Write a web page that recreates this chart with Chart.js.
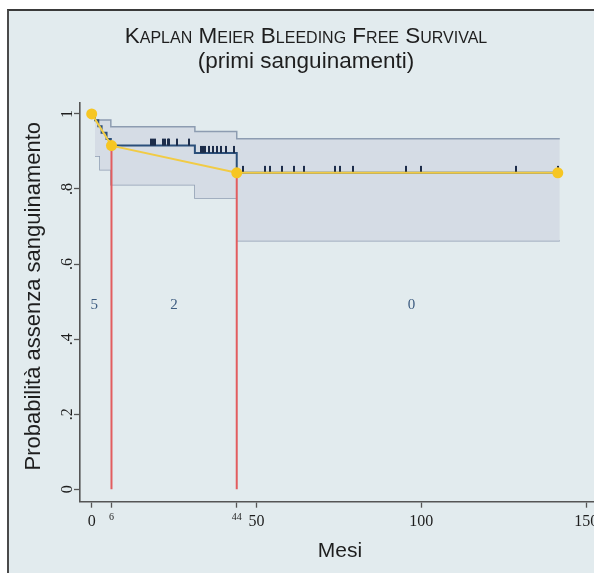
<!DOCTYPE html>
<html>
<head>
<meta charset="utf-8">
<script src="https://cdn.jsdelivr.net/npm/chart.js@4.4.1/dist/chart.umd.min.js"></script>
<style>
  html, body { margin: 0; padding: 0; background: #ffffff; overflow: hidden; width: 594px; height: 573px; }
  #frame { position: absolute; left: 7px; top: 9px; width: 700px; height: 700px; background: #e2ebee;
           border-left: 2px solid #4a4a4a; border-top: 2px solid #3a3a3a; }
  #c { position: absolute; left: 0; top: 0; }
</style>
</head>
<body>
<div id="frame"></div>
<canvas id="c" width="612" height="573"></canvas>
<script>
// ---- Data ----
const kmTimes = [0, 1, 2, 3, 4.5, 5.8, 31.3, 44, 141.4];
const kmSurv  = [1, 0.983, 0.967, 0.95, 0.933, 0.9155, 0.896, 0.843, 0.843];

const bandTimes = [1, 2.5, 5.8, 31.3, 44, 142];
const bandUpper = [0.984, 0.984, 0.966, 0.953, 0.934, 0.934];
const bandLower = [0.888, 0.851, 0.811, 0.776, 0.662, 0.662];

const censorTimes = [17.9, 18.6, 19.3, 21.7, 22.3, 23.0, 23.5, 25.8, 29.6,
                     33.3, 33.9, 34.5, 35.6, 36.9, 37.9, 39.1, 40.6, 43.3,
                     46, 52.6, 54.1, 57.8, 61.4, 64.5, 73.8, 75.3, 79.2, 95.3, 99.9, 128.7, 141.4];

const yellowTimes = [0, 6, 44, 141.4];
const yellowSurv  = [1, 0.9155, 0.843, 0.843];

const markTimes = [6, 44];           // red vertical markers
const markSurv  = [0.9155, 0.843];

const countLabels = ['5', '2', '0'];  // events per interval
const countTimes  = [0.8, 25, 97];
const countLevel  = 0.49;

const xTickValues = [0, 6, 44, 50, 100, 150];
const xTickLabels = ['0', '6', '44', '50', '100', '150'];
const xMinorTicks = [6, 44];
const yTickValues = [0, 0.2, 0.4, 0.6, 0.8, 1];
const yTickLabels = ['0', '.2', '.4', '.6', '.8', '1'];

// ---- helpers ----
function kmAt(t) {
  let s = kmSurv[0];
  for (let i = 0; i < kmTimes.length; i++) { if (kmTimes[i] <= t) s = kmSurv[i]; }
  return s;
}
function pts(xs, ys) { return xs.map((x, i) => ({ x: x, y: ys[i] })); }

const tickImg = (function () {
  const c = document.createElement('canvas');
  c.width = 2; c.height = 16;
  const g = c.getContext('2d');
  g.fillStyle = '#1d2d4a';
  g.fillRect(0, 1, 2, 7);
  return c;
})();

const countPlugin = {
  id: 'countLabels',
  afterDatasetsDraw(chart) {
    const { ctx, scales: { x, y } } = chart;
    ctx.save();
    ctx.font = '15px "Liberation Serif"';
    ctx.fillStyle = '#3d5c80';
    ctx.textAlign = 'center';
    ctx.textBaseline = 'middle';
    countLabels.forEach((lab, i) => {
      ctx.fillText(lab, x.getPixelForValue(countTimes[i]), y.getPixelForValue(countLevel));
    });
    ctx.restore();
  }
};

const datasets = [
  { // yellow connecting line with dots
    data: pts(yellowTimes, yellowSurv), borderColor: '#f1cb45', borderWidth: 2,
    pointRadius: 5.5, pointBackgroundColor: '#f6c623', pointBorderWidth: 0, order: 0, tension: 0
  },
  ...markTimes.map((t, i) => ({
    data: [{ x: t, y: 0 }, { x: t, y: markSurv[i] }], borderColor: '#e25d5f', borderWidth: 2,
    pointRadius: 0, order: 1
  })),
  { // censoring marks
    data: censorTimes.map(t => ({ x: t, y: kmAt(t) })), showLine: false,
    pointStyle: tickImg, pointRadius: 8, order: 2
  },
  { // KM curve
    data: pts(kmTimes, kmSurv), borderColor: '#2b4f7a', borderWidth: 2, stepped: 'before',
    pointRadius: 0, order: 3
  },
  { // band upper
    data: pts(bandTimes, bandUpper), borderColor: '#8d9cb1', borderWidth: 1.5, stepped: 'before',
    pointRadius: 0, order: 4, fill: { target: '+1' }, backgroundColor: '#d5dce5'
  },
  { // band lower
    data: pts(bandTimes, bandLower), borderColor: '#8d9cb1', borderWidth: 1.5, stepped: 'before',
    pointRadius: 0, order: 5
  }
];

new Chart(document.getElementById('c'), {
  type: 'line',
  data: { datasets: datasets },
  plugins: [countPlugin],
  options: {
    responsive: false,
    animation: false,
    events: [],
    layout: { padding: { left: 12, right: 12, top: 0, bottom: 0 } },
    plugins: {
      legend: { display: false },
      tooltip: { enabled: false },
      title: {
        display: true, text: 'Kaplan Meier Bleeding Free Survival', color: '#1e1e1e',
        font: { family: '"Liberation Sans"', size: 22.5, weight: 'small-caps', lineHeight: 1.1 },
        padding: { top: 24.6, bottom: 0 }
      },
      subtitle: {
        display: true, text: '(primi sanguinamenti)', color: '#1e1e1e',
        font: { family: '"Liberation Sans"', size: 22.5, weight: 'normal', lineHeight: 1.1 },
        padding: { top: 0, bottom: 28.9 }
      }
    },
    scales: {
      x: {
        type: 'linear', min: -3.55, max: 154.2,
        afterBuildTicks: s => { s.ticks = xTickValues.map(v => ({ value: v })); },
        afterFit: s => { s.height = 573 - 501.7; },
        ticks: {
          color: '#1e1e1e', padding: 4,
          callback: (v, i) => xTickLabels[i],
          font: c => ({ family: '"Liberation Serif"', size: (c.tick && xMinorTicks.includes(c.tick.value)) ? 10 : 16 })
        },
        grid: { display: true, drawOnChartArea: false, drawTicks: true, tickLength: 6, tickColor: '#555', tickWidth: 1.3 },
        border: { display: true, color: '#555', width: 1.6 },
        title: { display: true, text: 'Mesi', color: '#1e1e1e', font: { family: '"Liberation Sans"', size: 21 }, padding: { top: 0, bottom: 9 } }
      },
      y: {
        type: 'linear', min: -0.033, max: 1.029,
        afterBuildTicks: s => { s.ticks = yTickValues.map(v => ({ value: v })); },
        afterFit: s => { s.width = 68; },
        ticks: {
          color: '#1e1e1e', padding: 0, minRotation: 90, maxRotation: 90, crossAlign: 'center',
          callback: (v, i) => yTickLabels[i],
          font: { family: '"Liberation Serif"', size: 16 }
        },
        grid: { display: true, drawOnChartArea: false, drawTicks: true, tickLength: 6, tickColor: '#555', tickWidth: 1.3 },
        border: { display: true, color: '#555', width: 1.6 },
        title: { display: true, text: '  Probabilità assenza sanguinamento', color: '#1e1e1e', font: { family: '"Liberation Sans"', size: 22 }, padding: { top: 9, bottom: 0 } }
      }
    }
  }
});
</script>
</body>
</html>
